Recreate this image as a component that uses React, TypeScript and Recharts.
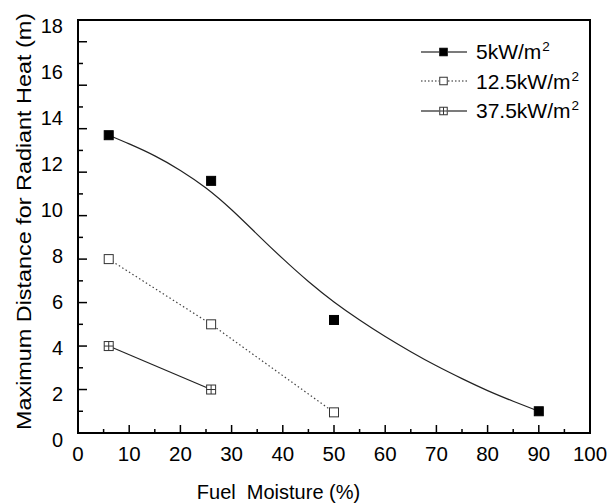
import React from "react"
import { ComposedChart, Line, XAxis, YAxis, ReferenceArea, Legend, Label } from "recharts"

const FONT = "'Liberation Sans', Arial, Helvetica, sans-serif"

// measured points (fuel moisture %, distance m)
const flux5Points = [
    { x: 6, y: 13.7 },
    { x: 26, y: 11.6 },
    { x: 50, y: 5.2 },
    { x: 90, y: 1.0 },
]

// fitted curve through the 5 kW/m2 points
const flux5Fit = [
    { x: 6, y: 13.7 },
    { x: 10, y: 13.3 },
    { x: 15, y: 12.75 },
    { x: 20, y: 12.08 },
    { x: 25, y: 11.27 },
    { x: 30, y: 10.27 },
    { x: 35, y: 9.14 },
    { x: 40, y: 8.02 },
    { x: 45, y: 6.97 },
    { x: 50, y: 6.03 },
    { x: 55, y: 5.2 },
    { x: 60, y: 4.44 },
    { x: 65, y: 3.74 },
    { x: 70, y: 3.09 },
    { x: 75, y: 2.5 },
    { x: 80, y: 1.95 },
    { x: 85, y: 1.46 },
    { x: 90, y: 1.0 },
]

const flux125Points = [
    { x: 6, y: 8.0 },
    { x: 26, y: 5.0 },
    { x: 50, y: 0.95 },
]

const flux375Points = [
    { x: 6, y: 4.0 },
    { x: 26, y: 2.0 },
]

const seriesNames = ["5kW/m", "12.5kW/m", "37.5kW/m"]

const xTicks = [0, 5, 10, 15, 20, 25, 30, 35, 40, 45, 50, 55, 60, 65, 70, 75, 80, 85, 90, 95, 100]
const xLabels = [0, 10, 20, 30, 40, 50, 60, 70, 80, 90, 100]
const yTicks = [0, 1, 2, 3, 4, 5, 6, 7, 8, 9, 10, 11, 12, 13, 14, 15, 16, 17, 18]
const yLabels = [0, 2, 4, 6, 8, 10, 12, 14, 16, 18]

type MarkerKind = "filled" | "open" | "crossed"

function Marker({ cx, cy, kind, size = 9 }: { cx: number; cy: number; kind: MarkerKind; size?: number }) {
    const h = size / 2
    if (kind === "filled") {
        return <rect x={cx - h} y={cy - h} width={size} height={size} fill="#000" stroke="#000" strokeWidth={1} />
    }
    return (
        <g>
            <rect x={cx - h} y={cy - h} width={size} height={size} fill="#fff" stroke="#333" strokeWidth={1} />
            {kind === "crossed" && (
                <>
                    <line x1={cx} x2={cx} y1={cy - h} y2={cy + h} stroke="#333" strokeWidth={1} />
                    <line x1={cx - h} x2={cx + h} y1={cy} y2={cy} stroke="#333" strokeWidth={1} />
                </>
            )}
        </g>
    )
}

const dotOf = (kind: MarkerKind) => (p: any) =>
    <Marker key={`${kind}-${p.index}`} cx={p.cx} cy={p.cy} kind={kind} />

function YTick(props: any) {
    const { x, y, payload } = props
    const v = payload.value as number
    const major = yLabels.includes(v)
    // the number column is spaced a little wider than the tick marks
    return (
        <g>
            <line x1={x} x2={x + (major ? 9 : 5)} y1={y} y2={y} stroke="#000" strokeWidth={1.5} />
            {major && (
                <text x={x - 15} y={y + 14 - v * 1.28} textAnchor="end" fontSize={20} fill="#000" fontFamily={FONT}>
                    {v}
                </text>
            )}
        </g>
    )
}

function XTick(props: any) {
    const { x, y, payload } = props
    const v = payload.value as number
    const major = xLabels.includes(v)
    return (
        <g>
            <line x1={x} x2={x} y1={y} y2={y - (major ? 8 : 4)} stroke="#000" strokeWidth={1.5} />
            {major && (
                <text x={x} y={y + 28} textAnchor="middle" fontSize={20.5} fill="#000" fontFamily={FONT}>
                    {v}
                </text>
            )}
        </g>
    )
}

function XTitle(props: any) {
    const vb = props.viewBox
    return (
        <text
            x={vb.x + vb.width / 2 - 55.5}
            y={vb.y + 66}
            textAnchor="middle"
            fontSize={20}
            fill="#000"
            fontFamily={FONT}
            style={{ whiteSpace: "pre" }}
        >
            {"Fuel  Moisture (%)"}
        </text>
    )
}

function YTitle(props: any) {
    const vb = props.viewBox
    const cx = vb.x + 31
    const cy = vb.y + vb.height / 2 - 5
    return (
        <text
            x={cx}
            y={cy}
            transform={`rotate(-90, ${cx}, ${cy})`}
            textAnchor="middle"
            fontSize={21}
            fill="#000"
            fontFamily={FONT}
            textLength={417}
            lengthAdjust="spacingAndGlyphs"
        >
            Maximum Distance for Radiant Heat (m)
        </text>
    )
}

const legendKinds: MarkerKind[] = ["filled", "open", "crossed"]
const legendDashes = [undefined, "1.5 2", undefined]

function LegendBox() {
    return (
        <div style={{ fontFamily: FONT, fontSize: 21, color: "#000" }}>
            {seriesNames.map((name, i) => (
                <div key={name} style={{ display: "flex", alignItems: "center", height: 29.5 }}>
                    <svg width={47} height={12} style={{ display: "block" }}>
                        <line x1={0} x2={18} y1={6} y2={6} stroke="#222" strokeWidth={1.2} strokeDasharray={legendDashes[i]} />
                        <line x1={27} x2={46} y1={6} y2={6} stroke="#222" strokeWidth={1.2} strokeDasharray={legendDashes[i]} />
                        <Marker cx={22.5} cy={6} kind={legendKinds[i]} size={7.5} />
                    </svg>
                    <span style={{ marginLeft: 8, lineHeight: 1, whiteSpace: "nowrap" }}>
                        {name}
                        <span style={{ fontSize: 13.5, position: "relative", top: -8, marginLeft: 1 }}>2</span>
                    </span>
                </div>
            ))}
        </div>
    )
}

export default function App() {
    return (
        <div style={{ position: "absolute", left: 0, top: 0, width: 610, height: 503, background: "#fff" }}>
            <ComposedChart width={610} height={503} margin={{ top: 20, right: 20, bottom: 0, left: 0 }}>
                <XAxis
                    type="number"
                    dataKey="x"
                    domain={[0, 100]}
                    ticks={xTicks}
                    interval={0}
                    height={70}
                    axisLine={false}
                    tickLine={false}
                    tickSize={0}
                    tickMargin={0}
                    tick={<XTick />}
                    allowDataOverflow
                >
                    <Label content={<XTitle />} />
                </XAxis>
                <YAxis
                    type="number"
                    domain={[0, 19]}
                    ticks={yTicks}
                    interval={0}
                    width={78}
                    axisLine={false}
                    tickLine={false}
                    tickSize={0}
                    tickMargin={0}
                    tick={<YTick />}
                    allowDataOverflow
                >
                    <Label content={<YTitle />} />
                </YAxis>
                <ReferenceArea x1={0} x2={100} y1={0} y2={19} fill="none" stroke="#000" strokeWidth={2} />
                <Line
                    data={flux5Fit}
                    dataKey="y"
                    type="natural"
                    stroke="#222"
                    strokeWidth={1.2}
                    dot={false}
                    activeDot={false}
                    isAnimationActive={false}
                />
                <Line
                    data={flux5Points}
                    dataKey="y"
                    stroke="none"
                    dot={dotOf("filled")}
                    activeDot={false}
                    isAnimationActive={false}
                />
                <Line
                    data={flux125Points}
                    dataKey="y"
                    type="linear"
                    stroke="#444"
                    strokeWidth={1.2}
                    strokeDasharray="1.5 2.5"
                    dot={dotOf("open")}
                    activeDot={false}
                    isAnimationActive={false}
                />
                <Line
                    data={flux375Points}
                    dataKey="y"
                    type="linear"
                    stroke="#222"
                    strokeWidth={1.2}
                    dot={dotOf("crossed")}
                    activeDot={false}
                    isAnimationActive={false}
                />
                <Legend
                    layout="horizontal"
                    verticalAlign="middle"
                    align="center"
                    content={<LegendBox />}
                    wrapperStyle={{ left: 421, top: 37, width: 170, height: 89 }}
                />
            </ComposedChart>
        </div>
    )
}
